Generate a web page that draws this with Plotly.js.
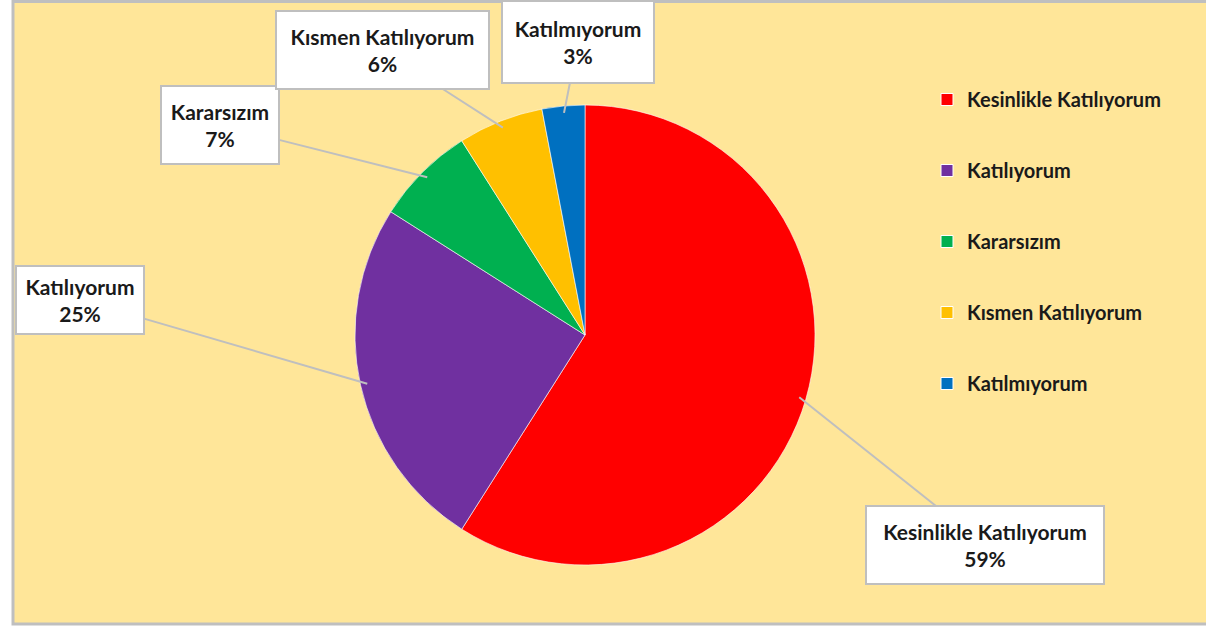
<!DOCTYPE html>
<html>
<head>
<meta charset="utf-8">
<script src="https://cdn.plot.ly/plotly-3.0.1.min.js"></script>
<style>html,body{margin:0;padding:0;background:#fff;}#chart{width:1206px;height:627px;}</style>
</head>
<body>
<div id="chart"></div>
<script>
// ---- data ----
const categories = ["Kesinlikle Katılıyorum", "Katılıyorum", "Kararsızım", "Kısmen Katılıyorum", "Katılmıyorum"];
const values = [59, 25, 7, 6, 3];
const colors = ["#FF0000", "#7030A0", "#00B050", "#FFC000", "#0070C0"];
// callout box centres and sizes (pixels) – layout only
const calloutPos = [[985, 545], [80, 300], [220, 125], [382, 50], [578, 42]];
const calloutSize = [[236, 76], [126, 66], [116, 76], [211, 76], [150, 80]];

const W = 1206, H = 627;
const cx = 585, cy = 335, R = 230;
const font = "Lato, 'Open Sans', sans-serif";

const pie = {
  type: "pie",
  labels: categories,
  values: values,
  sort: false,
  direction: "clockwise",
  rotation: 0,
  textinfo: "none",
  hoverinfo: "label+percent",
  showlegend: false,
  marker: { colors: colors, line: { color: "rgba(255,255,255,0.6)", width: 1 } },
  domain: { x: [(cx - R) / W, (cx + R) / W], y: [(H - cy - R) / H, (H - cy + R) / H] }
};

// legend entries (one per category)
const legendTraces = categories.map((c, i) => ({
  type: "scatter", mode: "markers", x: [null], y: [null], name: c,
  legendgroup: "g" + i, showlegend: true, hoverinfo: "skip",
  marker: { symbol: "square", size: 12, color: colors[i], line: { color: "#fff", width: 1 } }
}));

// callouts computed from the data (mid-angle of each slice)
const total = values.reduce((a, b) => a + b, 0);
let cum = 0;
const annotations = values.map((v, i) => {
  const mid = (cum + v / 2) / total * 2 * Math.PI;
  cum += v;
  const tx = cx + R * 0.97 * Math.sin(mid);
  const ty = cy - R * 0.97 * Math.cos(mid);
  const pct = Math.round(v / total * 100) + "%";
  return {
    xref: "paper", yref: "paper",
    x: tx / W, y: 1 - ty / H,
    ax: calloutPos[i][0] - tx, ay: calloutPos[i][1] - ty,
    text: "<b>" + categories[i] + "</b><br><b>" + pct + "</b>",
    width: calloutSize[i][0], height: calloutSize[i][1], valign: "middle",
    showarrow: true, arrowhead: 0, arrowwidth: 2, arrowcolor: "#BFBFBF",
    bgcolor: "#FFFFFF", bordercolor: "#BFBFBF", borderwidth: 2, borderpad: 0,
    font: { family: font, size: 21, color: "#1a1a1a" }, align: "center"
  };
});

const layout = {
  width: W, height: H,
  margin: { l: 0, r: 0, t: 0, b: 0 },
  paper_bgcolor: "#FFFFFF",
  plot_bgcolor: "rgba(0,0,0,0)",
  xaxis: { visible: false, range: [0, 1], fixedrange: true },
  yaxis: { visible: false, range: [0, 1], fixedrange: true },
  shapes: [{
    type: "rect", xref: "paper", yref: "paper", layer: "below",
    x0: 13 / W, x1: 1.01, y0: 1 - 624 / H, y1: 1 - 1.5 / H,
    fillcolor: "#FFE699", line: { color: "#BFBFBF", width: 3 }
  }],
  legend: {
    x: 927 / W, y: 1 - 80 / H, xanchor: "left", yanchor: "top",
    bgcolor: "rgba(0,0,0,0)", tracegroupgap: 42,
    font: { family: font, size: 20, color: "#1a1a1a", weight: "bold" },
    itemwidth: 30
  },
  annotations: annotations,
  showlegend: true
};

Plotly.newPlot("chart", [pie].concat(legendTraces), layout, { displayModeBar: false, staticPlot: true });
</script>
</body>
</html>
